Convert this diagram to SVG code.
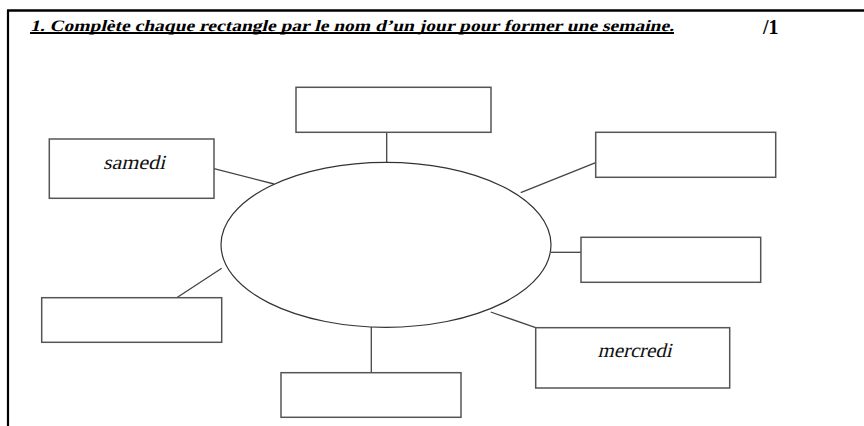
<svg xmlns="http://www.w3.org/2000/svg" width="864" height="426" viewBox="0 0 864 426">
<style>
.box{fill:#fff;stroke:#555;stroke-width:1.5}
.conn{stroke:#444;stroke-width:1.3;fill:none}
</style>
<rect width="864" height="426" fill="#fff"/>
<g id="frame">
<line x1="7" y1="10.5" x2="864" y2="10.5" stroke="#000" stroke-width="2.5"/>
<line x1="8" y1="10" x2="8" y2="426" stroke="#000" stroke-width="2.2"/>
</g>
<g id="title">
<text transform="translate(30,30.5) skewX(-14)" x="0" y="0" font-family="Liberation Serif, Times New Roman, serif" font-weight="bold" font-size="16" fill="#000" textLength="644" lengthAdjust="spacingAndGlyphs">1. Complète chaque rectangle par le nom d’un jour pour former une semaine.</text>
<line x1="30" y1="33" x2="674" y2="33" stroke="#000" stroke-width="2"/>
<text x="763" y="34" font-family="Liberation Serif, Times New Roman, serif" font-weight="bold" font-size="20" fill="#000">/1</text>
</g>
<g id="connectors">
<line class="conn" x1="386.7" y1="132.3" x2="386.7" y2="162.3"/>
<line class="conn" x1="214" y1="168.7" x2="274" y2="184"/>
<line class="conn" x1="595.7" y1="162.7" x2="520.7" y2="192.7"/>
<line class="conn" x1="551" y1="252.3" x2="581" y2="252.3"/>
<line class="conn" x1="535.7" y1="327.7" x2="490.7" y2="312"/>
<line class="conn" x1="371.3" y1="327" x2="371.3" y2="372.7"/>
<line class="conn" x1="176.7" y1="297.7" x2="221.7" y2="268.3"/>
</g>
<g id="center">
<ellipse cx="386" cy="244.8" rx="165" ry="82.5" fill="none" stroke="#333" stroke-width="1.2"/>
</g>
<g id="box-top"><rect class="box" x="296" y="87.3" width="195" height="45"/></g>
<g id="box-samedi"><rect class="box" x="49.3" y="139" width="164.7" height="59.3"/><text transform="translate(103,169) skewX(-14)" x="0" y="0" font-family="Liberation Serif, Times New Roman, serif" font-size="20" fill="#111" textLength="62" lengthAdjust="spacingAndGlyphs">samedi</text></g>
<g id="box-topright"><rect class="box" x="595.7" y="132.3" width="180" height="45"/></g>
<g id="box-right"><rect class="box" x="581" y="237.3" width="179.7" height="45"/></g>
<g id="box-mercredi"><rect class="box" x="535.7" y="327.7" width="194" height="60.3"/><text transform="translate(597.5,357.3) skewX(-14)" x="0" y="0" font-family="Liberation Serif, Times New Roman, serif" font-size="20" fill="#111" textLength="74" lengthAdjust="spacingAndGlyphs">mercredi</text></g>
<g id="box-bottom"><rect class="box" x="281" y="372.7" width="180" height="44.6"/></g>
<g id="box-bottomleft"><rect class="box" x="41.7" y="297.7" width="180" height="44.6"/></g>
</svg>
